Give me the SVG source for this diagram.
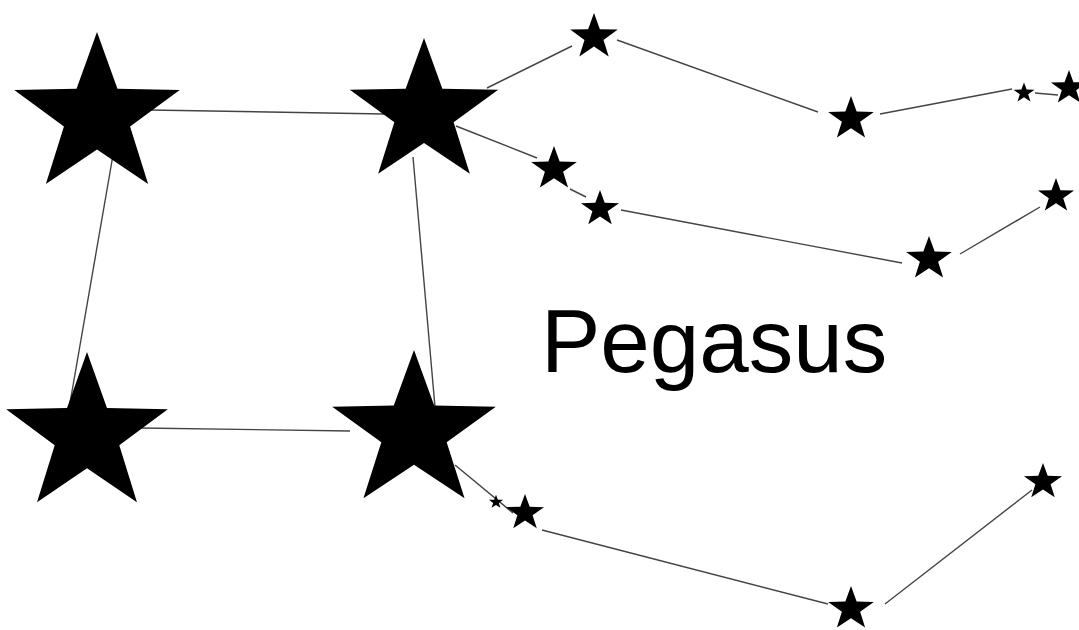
<svg xmlns="http://www.w3.org/2000/svg" xmlns:xlink="http://www.w3.org/1999/xlink" width="1079" height="630" viewBox="0 0 1079 630">
<style>
.link{stroke:#444;stroke-width:1.4;fill:none;stroke-linecap:butt}
.star{fill:#000}
.title{font-family:"Liberation Sans",Arial,sans-serif;font-size:89px;fill:#000}
</style>
<defs>
<path id="s" d="M0,-100 L23.5,-32.4 L95.11,-30.9 L38,12.4 L58.78,80.9 L0,40 L-58.78,80.9 L-38,12.4 L-95.11,-30.9 L-23.5,-32.4 Z"/>
</defs>
<rect width="1079" height="630" fill="#fff"/>
<g id="connectors">
<line class="link" x1="150" y1="110" x2="384" y2="114"/>
<line class="link" x1="487" y1="88" x2="572" y2="46"/>
<line class="link" x1="617" y1="40" x2="818" y2="112"/>
<line class="link" x1="880" y1="114" x2="1012" y2="89"/>
<line class="link" x1="1035" y1="93" x2="1058" y2="95"/>
<line class="link" x1="456" y1="126" x2="537" y2="158"/>
<line class="link" x1="570" y1="189" x2="586" y2="197"/>
<line class="link" x1="621" y1="210" x2="902" y2="263"/>
<line class="link" x1="960" y1="254" x2="1040" y2="207"/>
<line class="link" x1="113" y1="155" x2="70" y2="403"/>
<line class="link" x1="413" y1="157" x2="435" y2="407"/>
<line class="link" x1="140" y1="428" x2="350" y2="431"/>
<line class="link" x1="455" y1="465" x2="513" y2="513"/>
<line class="link" x1="542" y1="530" x2="828" y2="604"/>
<line class="link" x1="885" y1="604" x2="1032" y2="490"/>
</g>
<g id="star-tl"><use class="star" href="#s" transform="translate(97,116) scale(0.87,0.84)"/></g>
<g id="star-tr"><use class="star" href="#s" transform="translate(424,113) scale(0.78,0.75)"/></g>
<g id="star-bl"><use class="star" href="#s" transform="translate(87,435) scale(0.85,0.83)"/></g>
<g id="star-br"><use class="star" href="#s" transform="translate(414,432) scale(0.86,0.82)"/></g>
<g id="star-1"><use class="star" href="#s" transform="translate(594,37) scale(0.25,0.24)"/></g>
<g id="star-2"><use class="star" href="#s" transform="translate(851,119) scale(0.24,0.23)"/></g>
<g id="star-3"><use class="star" href="#s" transform="translate(1024,93) scale(0.11,0.105)"/></g>
<g id="star-4"><use class="star" href="#s" transform="translate(1069,88) scale(0.19,0.18)"/></g>
<g id="star-5"><use class="star" href="#s" transform="translate(554,169) scale(0.24,0.23)"/></g>
<g id="star-6"><use class="star" href="#s" transform="translate(600,209) scale(0.2,0.19)"/></g>
<g id="star-7"><use class="star" href="#s" transform="translate(929,259) scale(0.24,0.23)"/></g>
<g id="star-8"><use class="star" href="#s" transform="translate(1056,196) scale(0.19,0.18)"/></g>
<g id="star-9"><use class="star" href="#s" transform="translate(496,502) scale(0.075,0.072)"/></g>
<g id="star-10"><use class="star" href="#s" transform="translate(525,513) scale(0.2,0.19)"/></g>
<g id="star-11"><use class="star" href="#s" transform="translate(1043,482) scale(0.2,0.19)"/></g>
<g id="star-12"><use class="star" href="#s" transform="translate(851,609) scale(0.24,0.23)"/></g>
<g id="label"><text class="title" x="541" y="372">Pegasus</text></g>
</svg>
